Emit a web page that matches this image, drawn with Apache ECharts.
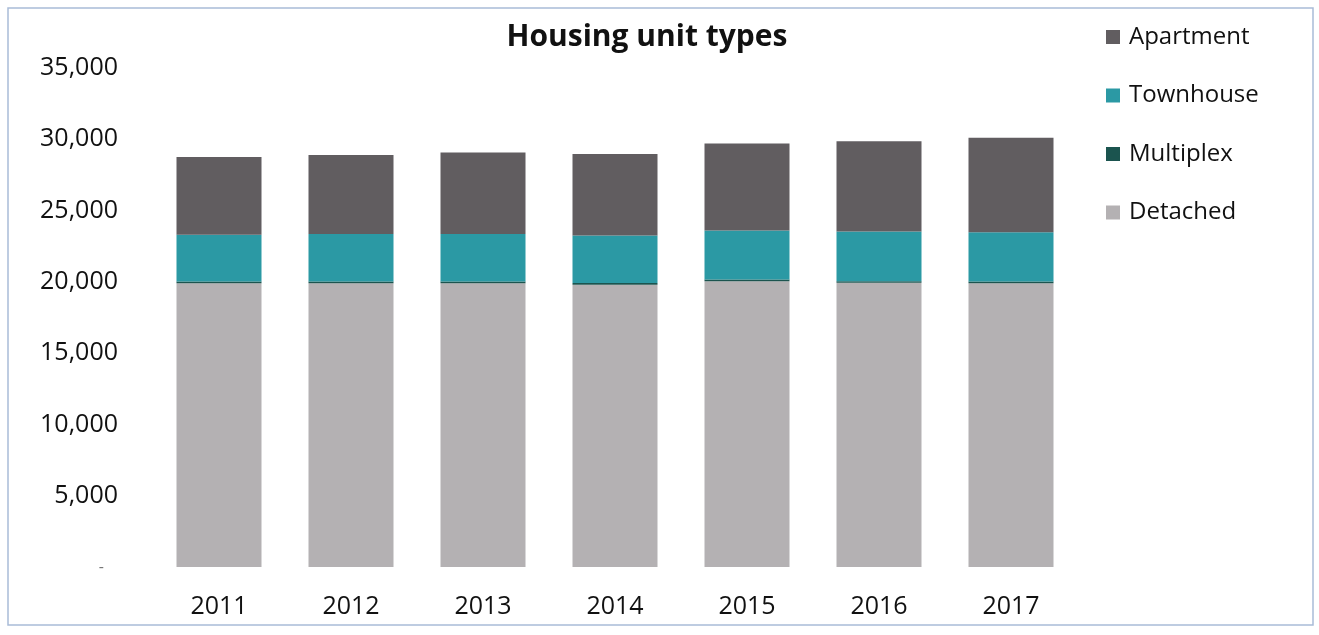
<!DOCTYPE html>
<html>
<head>
<meta charset="utf-8">
<script src="https://cdn.jsdelivr.net/npm/echarts@6/dist/echarts.min.js"></script>
<style>
  html, body { margin: 0; padding: 0; background: #fff; }
  #chart { width: 1319px; height: 635px; }
</style>
</head>
<body>
<div id="chart"></div>
<script>
const years = ["2011", "2012", "2013", "2014", "2015", "2016", "2017"];
const detached = [19900, 19900, 19900, 19800, 20050, 19930, 19910];
const multiplex = [130, 130, 120, 120, 120, 120, 120];
const townhouse = [3270, 3320, 3330, 3330, 3430, 3480, 3450];
const apartment = [5450, 5550, 5720, 5720, 6100, 6330, 6620];
const legendOrder = ["Apartment", "Townhouse", "Multiplex", "Detached"];

const font = "'Open Sans', sans-serif";

const chart = echarts.init(document.getElementById("chart"));

function barSeries(name, data, color) {
  return {
    name: name,
    type: "bar",
    stack: "total",
    data: data,
    barWidth: 85,
    itemStyle: { color: color },
    emphasis: { disabled: true }
  };
}

chart.setOption({
  animation: false,
  title: {
    text: "Housing unit types",
    left: 647,
    textAlign: "center",
    top: 22,
    padding: 0,
    textStyle: { fontFamily: font, fontSize: 30, fontWeight: "bold", color: "#111" }
  },
  legend: {
    orient: "vertical",
    left: 1106,
    top: 22,
    padding: 0,
    data: legendOrder,
    itemWidth: 14,
    itemHeight: 14,
    itemGap: 28.5,
    icon: "rect",
    textStyle: { fontFamily: font, fontSize: 24, color: "#111", lineHeight: 30, padding: [0, 0, 0, 4] }
  },
  grid: { left: 153, right: 242, top: 68, bottom: 68 },
  xAxis: {
    type: "category",
    data: years,
    axisLine: { show: false },
    axisTick: { show: false },
    axisLabel: { fontFamily: font, fontSize: 25, color: "#111", margin: 27 }
  },
  yAxis: {
    type: "value",
    min: 0,
    max: 35000,
    interval: 5000,
    splitLine: { show: false },
    axisLine: { show: false },
    axisTick: { show: false },
    axisLabel: {
      fontFamily: font,
      fontSize: 25,
      color: "#111",
      margin: 35,
      formatter: function (v) {
        if (v === 0) return "{z|-}";
        return v.toLocaleString("en-US");
      },
      rich: { z: { fontSize: 16, color: "#777", padding: [0, 14, 0, 0] } }
    }
  },
  graphic: [{
    type: "rect",
    shape: { x: 8, y: 8, width: 1305, height: 617 },
    style: { fill: "none", stroke: "#a9bcd8", lineWidth: 1.5 },
    silent: true
  }],
  series: [
    barSeries("Detached", detached, "#b4b1b3"),
    barSeries("Multiplex", multiplex, "#1b544f"),
    barSeries("Townhouse", townhouse, "#2b99a4"),
    barSeries("Apartment", apartment, "#615d60")
  ]
});
</script>
</body>
</html>
